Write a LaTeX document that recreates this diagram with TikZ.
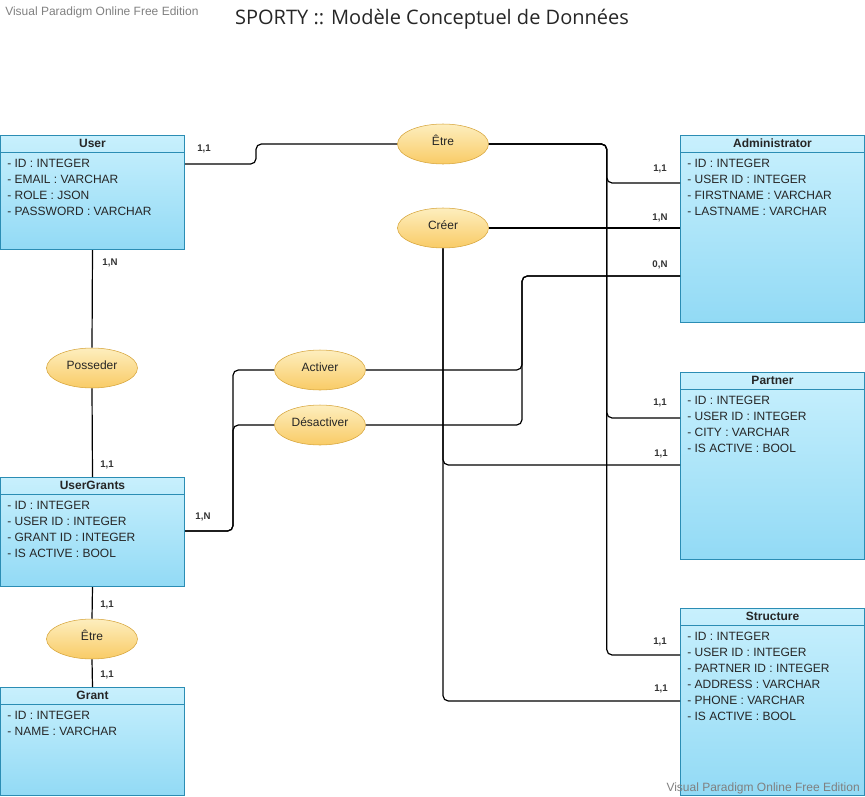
\documentclass[tikz,border=0pt]{standalone}
\usepackage{fontspec}
\setmainfont{Liberation Sans}
\newfontfamily\titlefont{Open Sans}
\usetikzlibrary{shapes.geometric,calc}
\definecolor{entitytop}{HTML}{C8F0FD}
\definecolor{entitybottom}{HTML}{92DAF5}
\definecolor{entityborder}{HTML}{2B8DB4}
\definecolor{reltop}{HTML}{FDEEBE}
\definecolor{relbottom}{HTML}{F9CB66}
\definecolor{relborder}{HTML}{D6A43A}
\tikzset{
  entity/.style={draw=entityborder,top color=entitytop,bottom color=entitybottom,minimum width=138pt,inner sep=0pt,anchor=north west,line width=0.75pt},
  entityname/.style={font=\bfseries\fontsize{9}{11}\selectfont,inner sep=0pt,text=black!85},
  entityrule/.style={draw=entityborder,line width=0.75pt},
  attrs/.style={font=\fontsize{9}{12}\selectfont,align=left,anchor=north west,inner sep=0pt,text=black!85},
  relation/.style={ellipse,draw=relborder,top color=reltop,bottom color=relbottom,minimum width=68.25pt,minimum height=30pt,inner sep=0pt,text height=7pt,text depth=4.5pt,font=\fontsize{9}{11}\selectfont,text=black!85},
  card/.style={font=\bfseries\fontsize{7.25}{8}\selectfont,inner sep=0pt,text=black!80},
  link/.style={draw,line width=0.9pt,rounded corners=4pt},
  watermark/.style={font=\fontsize{9}{11}\selectfont,text=black!50,inner sep=0pt}
}

\begin{document}
\begin{tikzpicture}[x=0.75pt,y=-0.75pt]
  \useasboundingbox (0,0) rectangle (865,797);
  % title
  \node[font=\titlefont\fontsize{15}{17}\selectfont,text=black!85] (title) at (432,19) {SPORTY :: Modèle Conceptuel de Données};

  % entities
  \node[entity,minimum height=85.5pt] (user) at (0,135) {};
  \node[entity,minimum height=140.25pt] (admin) at (680,135) {};
  \node[entity,minimum height=140.25pt] (partner) at (680,372) {};
  \node[entity,minimum height=140.25pt] (structure) at (680,608) {};
  \node[entity,minimum height=81.75pt] (usergrants) at (0,477) {};
  \node[entity,minimum height=81pt] (grant) at (0,687) {};
  \foreach \e in {user,admin,partner,structure,usergrants,grant}
    \draw[entityrule] ($(\e.north west)+(0,17)$) -- ($(\e.north east)+(0,17)$);

  \node[entityname] (usertitle) at ($(user.north)+(0,8.5)$) {User};
  \node[entityname] (admintitle) at ($(admin.north)+(0,8.5)$) {Administrator};
  \node[entityname] (partnertitle) at ($(partner.north)+(0,8.5)$) {Partner};
  \node[entityname] (structuretitle) at ($(structure.north)+(0,8.5)$) {Structure};
  \node[entityname] (usergrantstitle) at ($(usergrants.north)+(0,8.5)$) {UserGrants};
  \node[entityname] (granttitle) at ($(grant.north)+(0,8.5)$) {Grant};

  \node[attrs] (userattrs) at ($(user.north west)+(7,24)$) {- ID : INTEGER\\- EMAIL : VARCHAR\\- ROLE : JSON\\- PASSWORD : VARCHAR};
  \node[attrs] (adminattrs) at ($(admin.north west)+(7,24)$) {- ID : INTEGER\\- USER ID : INTEGER\\- FIRSTNAME : VARCHAR\\- LASTNAME : VARCHAR};
  \node[attrs] (partnerattrs) at ($(partner.north west)+(7,24)$) {- ID : INTEGER\\- USER ID : INTEGER\\- CITY : VARCHAR\\- IS ACTIVE : BOOL};
  \node[attrs] (structureattrs) at ($(structure.north west)+(7,24)$) {- ID : INTEGER\\- USER ID : INTEGER\\- PARTNER ID : INTEGER\\- ADDRESS : VARCHAR\\- PHONE : VARCHAR\\- IS ACTIVE : BOOL};
  \node[attrs] (usergrantsattrs) at ($(usergrants.north west)+(7,24)$) {- ID : INTEGER\\- USER ID : INTEGER\\- GRANT ID : INTEGER\\- IS ACTIVE : BOOL};
  \node[attrs] (grantattrs) at ($(grant.north west)+(7,24)$) {- ID : INTEGER\\- NAME : VARCHAR};

  % watermarks, over the boxes
  \node[watermark,anchor=west] (wmtop) at (5,12) {Visual Paradigm Online Free Edition};
  \node[watermark,anchor=east] (wmbottom) at (860,788) {Visual Paradigm Online Free Edition};

  % relations
  \node[relation] (etre) at (443,144) {Être};
  \node[relation] (creer) at (443,228) {Créer};
  \node[relation] (posseder) at (92,368) {Posseder};
  \node[relation] (activer) at (320,370) {Activer};
  \node[relation] (desactiver) at (320,425) {Désactiver};
  \node[relation] (etregrant) at (92,639) {Être};

  % connectors
  \path[link] ($(user.north east)+(0,29)$) -- ++(71,0) |- (etre.west);
  \path[link] (etre.east) -- ++(118,0) |- ($(admin.north west)+(0,48)$);
  \path[link] (etre.east) -- ++(118,0) |- ($(partner.north west)+(0,46)$);
  \path[link] (etre.east) -- ++(118,0) |- ($(structure.north west)+(0,47)$);
  \path[link] (creer.east) -- (creer.east -| admin.west);
  \path[link] (creer.south) |- ($(partner.north west)+(0,93)$);
  \path[link] (creer.south) |- ($(structure.north west)+(0,93)$);
  \path[link] ($(admin.north west)+(0,141)$) -- ++(-158,0) |- (activer.east);
  \path[link] ($(admin.north west)+(0,141)$) -- ++(-158,0) |- (desactiver.east);
  \path[link] ($(usergrants.north east)+(0,54)$) -- ++(48,0) |- (activer.west);
  \path[link] ($(usergrants.north east)+(0,54)$) -- ++(48,0) |- (desactiver.west);
  \path[link] (user.south) -- (posseder.north);
  \path[link] (posseder.south) -- (usergrants.north);
  \path[link] (usergrants.south) -- (etregrant.north);
  \path[link] (etregrant.south) -- (grant.north);

  % cardinalities
  \node[card] (c1) at (204,149) {1,1};
  \node[card] (c2) at (660,169) {1,1};
  \node[card] (c3) at (660,218) {1,N};
  \node[card] (c4) at (660,265) {0,N};
  \node[card] (c5) at (660,403) {1,1};
  \node[card] (c6) at (661,454) {1,1};
  \node[card] (c7) at (660,642) {1,1};
  \node[card] (c8) at (661,689) {1,1};
  \node[card] (c9) at (203,517) {1,N};
  \node[card] (c10) at (110,263) {1,N};
  \node[card] (c11) at (107,465) {1,1};
  \node[card] (c12) at (107,605) {1,1};
  \node[card] (c13) at (107,675) {1,1};
\end{tikzpicture}
\end{document}
